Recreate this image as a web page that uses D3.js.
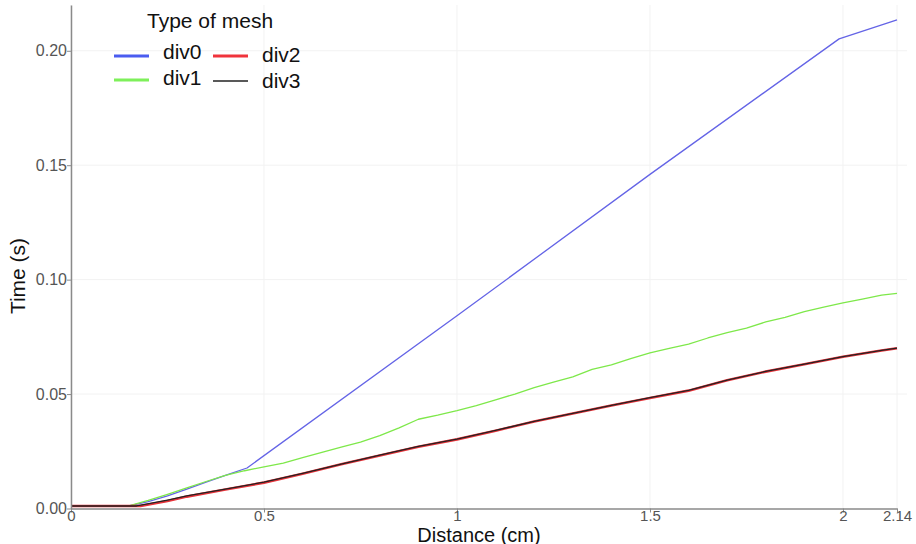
<!DOCTYPE html>
<html>
<head>
<meta charset="utf-8">
<script src="https://cdn.jsdelivr.net/npm/d3@7"></script>
<style>
  html, body { margin: 0; padding: 0; background: #fff; }
  svg { display: block; font-family: "Liberation Sans", Arial, sans-serif; }
</style>
</head>
<body>
<svg id="chart" width="916" height="544"></svg>
<script>
// Arrival time along the distance axis for each mesh refinement level
const seriesNames = ["div0", "div1", "div2", "div3"];
const seriesColors = ["#6464e6", "#7ee84a", "#e8333a", "#222222"];
const legendColors = ["#4a5cf0", "#7ef05a", "#f0343c", "#222222"];

const div0X = [0, 0.15, 0.2, 0.25, 0.3, 0.35, 0.4, 0.456, 1.0, 1.5, 1.99, 2.14];
const div0Y = [0.0011, 0.0011, 0.0030, 0.0055, 0.0085, 0.0115, 0.0145, 0.0177, 0.0842, 0.146, 0.2052, 0.2135];

const div1X = [0, 0.15, 0.2, 0.25, 0.3, 0.35, 0.4, 0.45, 0.5, 0.55, 0.6, 0.65, 0.7, 0.75, 0.8, 0.85, 0.9, 0.95,
               1.0, 1.05, 1.1, 1.15, 1.2, 1.25, 1.3, 1.35, 1.4, 1.45, 1.5, 1.55, 1.6, 1.65, 1.7, 1.75, 1.8,
               1.85, 1.9, 1.95, 2.0, 2.05, 2.1, 2.14];
const div1Y = [0.0011, 0.0012, 0.0035, 0.0062, 0.0090, 0.0118, 0.0145, 0.0165, 0.0182, 0.0198, 0.0222, 0.0245,
               0.0268, 0.0290, 0.0318, 0.0352, 0.0390, 0.0408, 0.0428, 0.0450, 0.0475, 0.0500, 0.0528, 0.0552,
               0.0575, 0.0608, 0.0628, 0.0655, 0.0680, 0.0700, 0.0718, 0.0745, 0.0768, 0.0788, 0.0815, 0.0835,
               0.0860, 0.0880, 0.0898, 0.0915, 0.0932, 0.0940];

const div2X = [0, 0.18, 0.25, 0.3, 0.4, 0.5, 0.6, 0.7, 0.8, 0.9, 1.0, 1.1, 1.2, 1.3, 1.4, 1.5, 1.6, 1.7, 1.8, 1.9, 2.0, 2.1, 2.14];
const div2Y = [0.0011, 0.0011, 0.0033, 0.0052, 0.0083, 0.0113, 0.0152, 0.0193, 0.0232, 0.0270, 0.0302, 0.0340,
               0.0380, 0.0415, 0.0450, 0.0483, 0.0515, 0.0560, 0.0598, 0.0630, 0.0663, 0.0690, 0.0700];

const div3X = [0, 0.17, 0.25, 0.3, 0.4, 0.5, 0.6, 0.7, 0.8, 0.9, 1.0, 1.1, 1.2, 1.3, 1.4, 1.5, 1.6, 1.7, 1.8, 1.9, 2.0, 2.1, 2.14];
const div3Y = [0.0011, 0.0011, 0.0037, 0.0055, 0.0085, 0.0115, 0.0153, 0.0194, 0.0233, 0.0271, 0.0303, 0.0341,
               0.0381, 0.0416, 0.0451, 0.0484, 0.0516, 0.0561, 0.0599, 0.0631, 0.0664, 0.0691, 0.0701];

const xTicks = [0, 0.5, 1, 1.5, 2, 2.14];
const xTickLabels = ["0", "0.5", "1", "1.5", "2", "2.14"];
const yTicks = [0, 0.05, 0.10, 0.15, 0.20];
const yTickLabels = ["0.00", "0.05", "0.10", "0.15", "0.20"];

const xs = [div0X, div1X, div2X, div3X];
const ys = [div0Y, div1Y, div2Y, div3Y];
const widths = [1.3, 1.3, 2.6, 1.3];

const svg = d3.select("#chart");
const plotLeft = 71, plotRight = 897, plotTop = 5, plotBottom = 508.5;

const x = d3.scaleLinear().domain([0, 2.14]).range([plotLeft, plotRight]);
const y = d3.scaleLinear().domain([0, 0.22]).range([plotBottom, plotTop]);

// faint grid
const grid = svg.append("g");
grid.selectAll("line.v").data(xTicks).join("line")
  .attr("class", "v")
  .attr("x1", d => x(d)).attr("x2", d => x(d))
  .attr("y1", plotTop).attr("y2", plotBottom)
  .attr("stroke", "#f2f2f2").attr("stroke-width", 1);
grid.selectAll("line.h").data(yTicks.slice(1)).join("line")
  .attr("class", "h")
  .attr("x1", plotLeft).attr("x2", plotRight + 10)
  .attr("y1", d => y(d)).attr("y2", d => y(d))
  .attr("stroke", "#f2f2f2").attr("stroke-width", 1);

// series lines
const line = d3.line().x(d => x(d[0])).y(d => y(d[1]));
seriesNames.forEach((name, i) => {
  const pts = xs[i].map((v, j) => [v, ys[i][j]]);
  svg.append("path")
    .datum(pts)
    .attr("fill", "none")
    .attr("stroke", seriesColors[i])
    .attr("stroke-width", widths[i])
    .attr("stroke-linejoin", "round")
    .attr("d", line);
});

// axes
const xAxis = svg.append("g")
  .attr("transform", `translate(0,${plotBottom})`)
  .call(d3.axisBottom(x).tickValues(xTicks).tickFormat((d, i) => xTickLabels[i]).tickSize(4).tickSizeOuter(0));
const yAxis = svg.append("g")
  .attr("transform", `translate(${plotLeft},0)`)
  .call(d3.axisLeft(y).tickValues(yTicks).tickFormat((d, i) => yTickLabels[i]).tickSize(4).tickSizeOuter(0));

[xAxis, yAxis].forEach(g => {
  g.select(".domain").attr("stroke", "#8a8a8a").attr("stroke-width", 1.5);
  g.selectAll(".tick line").attr("stroke", "#8a8a8a");
  g.selectAll(".tick text")
    .attr("fill", "#555")
    .style("font-family", "'Liberation Sans', Arial, sans-serif");
});
yAxis.selectAll(".tick text").attr("x", -4).style("font-size", "16px");
xAxis.selectAll(".tick text").style("font-size", "15px").attr("y", 12.5).attr("dy", 0);

// axis titles
svg.append("text")
  .attr("x", 479).attr("y", 541.5)
  .attr("text-anchor", "middle")
  .style("font-size", "20px").attr("fill", "#111")
  .text("Distance (cm)");
svg.append("text")
  .attr("transform", "translate(25,276) rotate(-90)")
  .attr("text-anchor", "middle")
  .style("font-size", "21px").attr("fill", "#111")
  .text("Time (s)");

// legend
const legend = svg.append("g");
legend.append("text")
  .attr("x", 147).attr("y", 28)
  .style("font-size", "21px").attr("fill", "#111")
  .text("Type of mesh");
const legendPos = [[114, 56, 59], [114, 80, 85], [213, 56, 62], [213, 81, 88]];
seriesNames.forEach((name, i) => {
  const [lx, ly, ty] = legendPos[i];
  legend.append("line")
    .attr("x1", lx).attr("x2", lx + 35)
    .attr("y1", ly).attr("y2", ly)
    .attr("stroke", legendColors[i])
    .attr("stroke-width", i === 3 ? 1.5 : 3);
  legend.append("text")
    .attr("x", lx + 49).attr("y", ty)
    .style("font-size", "21px").attr("fill", "#111")
    .text(name);
});
</script>
</body>
</html>
